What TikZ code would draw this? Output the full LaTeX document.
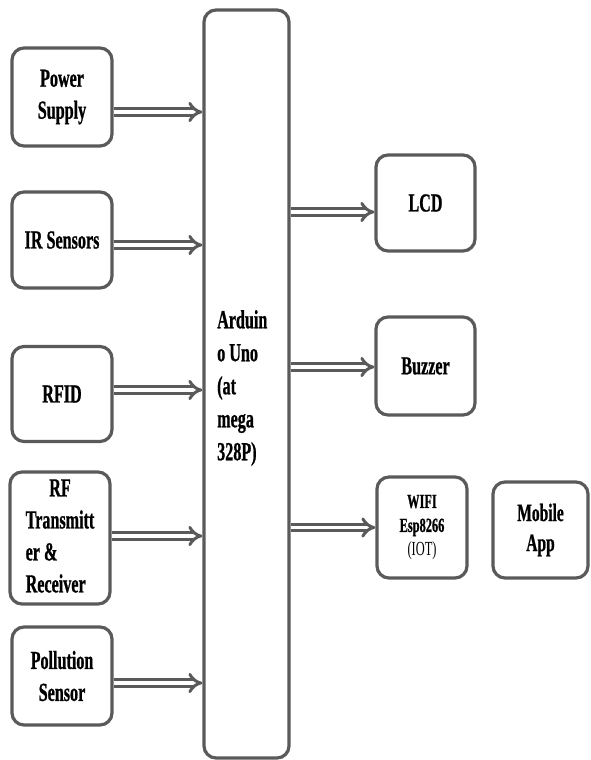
\documentclass[tikz,border=0pt]{standalone}
\usepackage{fontspec}
\usepackage{xcolor}
\usetikzlibrary{arrows.meta, calc}
\newfontfamily\blockfont[FakeStretch=0.62, BoldFeatures={FakeBold=0.8}]{Liberation Serif}
\definecolor{edgegray}{HTML}{5A5A5A}

\begin{document}
\begin{tikzpicture}[x=1pt, y=-1pt,
    block/.style={draw=edgegray, line width=3.2pt, rounded corners=12pt,
      inner sep=0pt, align=center, font=\blockfont\bfseries\fontsize{26}{32}\selectfont},
    link/.style={draw=edgegray, line width=3pt, double=white, double distance=3.5pt,
      -{Implies}}]
    \useasboundingbox (0,0) rectangle (590,760);
    % Input blocks
    \node[block, minimum width=100pt, minimum height=98pt] (psu) at (62,97) {Power\\Supply};
    \node[block, minimum width=100pt, minimum height=96pt] (ir) at (62,240) {IR Sensors};
    \node[block, minimum width=100pt, minimum height=95pt] (rfid) at (62,394) {RFID};
    \node[block, minimum width=100pt, minimum height=132pt] (rf) at (60,538)
      {\begin{tabular}{@{}l@{}}\multicolumn{1}{@{}c@{}}{RF}\\Transmitt\\er \&\\Receiver\end{tabular}};
    \node[block, minimum width=100pt, minimum height=98pt] (pol) at (62,676) {Pollution\\Sensor};
    % Controller
    \node[block, minimum width=85pt, minimum height=748pt] (mcu) at (246.5,384) {};
    \node[anchor=west, align=left, inner sep=0pt,
      font=\blockfont\bfseries\fontsize{26}{33}\selectfont] (mcutext) at (217,388)
      {Arduin\\o Uno\\(at\\mega\\328P)};
    % Output blocks
    \node[block, minimum width=99pt, minimum height=96pt] (lcd) at (425.5,203) {LCD};
    \node[block, minimum width=99pt, minimum height=98pt] (buzzer) at (425.5,366) {Buzzer};
    \node[block, minimum width=90pt, minimum height=101pt,
      font=\blockfont\fontsize{20}{24}\selectfont] (wifi) at (422,527.5)
      {\textbf{WIFI}\\\textbf{Esp8266}\\(IOT)};
    \node[block, minimum width=95pt, minimum height=96pt,
      font=\blockfont\bfseries\fontsize{25}{30}\selectfont] (app) at (540.5,530) {Mobile\\App};
    % Arrows into the controller
    \foreach \n/\d in {psu/-15, ir/-5, rfid/4, rf/2, pol/-7} {
      \path ([yshift=\d pt]\n.east) coordinate (s);
      \draw[link] (s) -- (s -| mcu.west);
    }
    % Arrows out of the controller
    \foreach \n/\d in {lcd/-9, buzzer/-1, wifi/0} {
      \path ([yshift=\d pt]\n.west) coordinate (t);
      \draw[link] (t -| mcu.east) -- (t);
    }
  \end{tikzpicture}
\end{document}
